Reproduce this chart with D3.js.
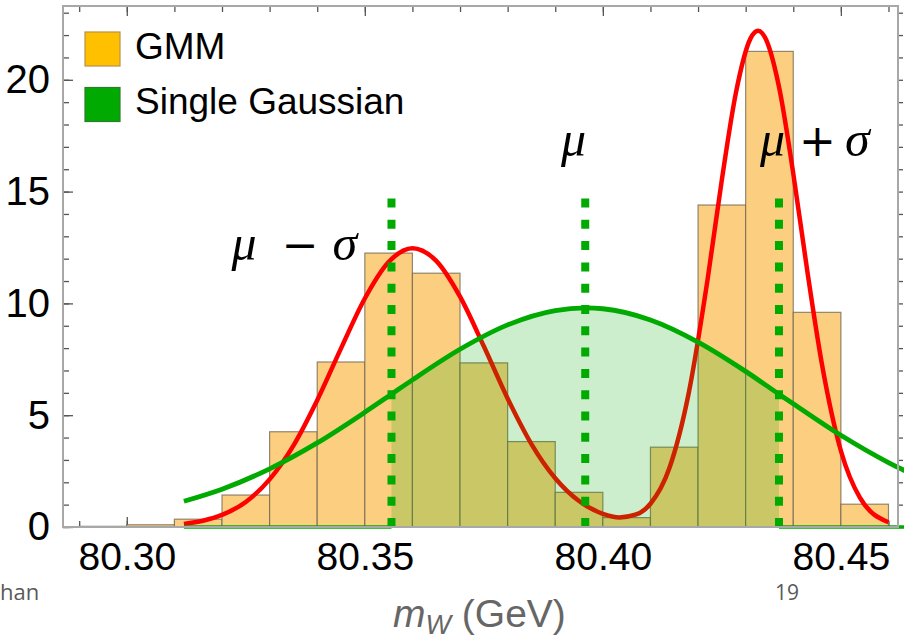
<!DOCTYPE html>
<html>
<head>
<meta charset="utf-8">
<script src="https://cdnjs.cloudflare.com/ajax/libs/d3/7.8.5/d3.min.js"></script>
<style>
  body { margin: 0; background: #fff; }
  svg { display: block; }
</style>
</head>
<body>
<div id="chart"></div>
<script>
// histogram (normalised), bin edges in GeV
const binEdges = [80.29, 80.30, 80.31, 80.32, 80.33, 80.34, 80.35, 80.36, 80.37, 80.38,
                  80.39, 80.40, 80.41, 80.42, 80.43, 80.44, 80.45, 80.46];
const binHeights = [0.03, 0.1, 0.35, 1.43, 4.26, 7.38, 12.25, 11.35, 7.34, 3.82,
                    1.55, 0.42, 3.57, 14.4, 21.27, 9.6, 1.02];

// GMM curve (red)
const gmmX = [80.312, 80.316, 80.320, 80.325, 80.330, 80.335, 80.340, 80.345, 80.350, 80.355,
              80.360, 80.365, 80.370, 80.375, 80.380, 80.385, 80.390, 80.395, 80.400, 80.4035,
              80.407, 80.410, 80.414, 80.418, 80.422, 80.425, 80.428, 80.431, 80.4326, 80.434,
              80.437, 80.440, 80.443, 80.446, 80.450, 80.454, 80.460];
const gmmY = [0.14, 0.28, 0.54, 1.12, 2.13, 3.64, 5.67, 7.99, 10.22, 11.85,
              12.47, 11.90, 10.30, 8.08, 5.75, 3.71, 2.18, 1.16, 0.59, 0.43,
              0.56, 1.04, 2.65, 5.95, 11.07, 15.53, 19.47, 21.84, 22.19, 21.92,
              19.69, 15.81, 11.37, 7.31, 3.41, 1.31, 0.21];

// single gaussian curve (green)
const gaussX = [80.312, 80.320, 80.330, 80.340, 80.350, 80.3556, 80.360, 80.370, 80.380, 80.390,
                80.3963, 80.400, 80.410, 80.420, 80.430, 80.437, 80.440, 80.450, 80.460, 80.466];
const gaussY = [1.15, 1.69, 2.60, 3.76, 5.13, 5.94, 6.58, 7.95, 9.04, 9.68,
                9.80, 9.76, 9.26, 8.27, 6.96, 5.94, 5.51, 4.10, 2.88, 2.26];

// mu - sigma, mu, mu + sigma
const markerX = [80.3556, 80.3963, 80.4370];
const markerTop = 15;

const xTicks = [80.30, 80.35, 80.40, 80.45];
const yTicks = [0, 5, 10, 15, 20];
const legendNames = ["GMM", "Single Gaussian"];

const W = 904, H = 638;
const svg = d3.select("#chart").append("svg")
  .attr("width", W).attr("height", H)
  .style("font-family", "'Liberation Sans', Arial, sans-serif");

const x = d3.scaleLinear().domain([80.2866, 80.4620]).range([63, 898]);
const y = d3.scaleLinear().domain([0, 23.3]).range([527, 6]);

const orange = "#fccf80", red = "#ff0000", green = "#00aa00";

// frame + ticks
const minorX = x.ticks(20), minorY = y.ticks(25);
function tickAxis(axis, tx, ty) {
  const g = svg.append("g").attr("transform", `translate(${tx},${ty})`).call(axis);
  g.select(".domain").remove();
  g.selectAll("line").attr("stroke", "#555").attr("stroke-width", 1.3);
  return g;
}
tickAxis(d3.axisBottom(x).tickValues(minorX).tickSize(6).tickFormat(""), 0, 6);
tickAxis(d3.axisBottom(x).tickValues(xTicks).tickSize(10).tickFormat(""), 0, 6);
tickAxis(d3.axisTop(x).tickValues(minorX).tickSize(6).tickFormat(""), 0, 527);
tickAxis(d3.axisTop(x).tickValues(xTicks).tickSize(10).tickFormat(""), 0, 527);
tickAxis(d3.axisRight(y).tickValues(minorY).tickSize(6).tickFormat(""), 63, 0);
tickAxis(d3.axisRight(y).tickValues(yTicks).tickSize(10).tickFormat(""), 63, 0);
tickAxis(d3.axisRight(y).tickValues(minorY).tickSize(6).tickFormat(""), 897, 0);

// histogram bars
const bins = binHeights.map((h, i) => ({ x0: binEdges[i], x1: binEdges[i + 1], h: h }));
svg.append("g").selectAll("rect").data(bins).enter().append("rect")
  .attr("x", d => x(d.x0))
  .attr("y", d => y(d.h))
  .attr("width", d => x(d.x1) - x(d.x0))
  .attr("height", d => y(0) - y(d.h))
  .attr("fill", orange)
  .attr("stroke", "#6e6450")
  .attr("stroke-opacity", 0.75)
  .attr("stroke-width", 1.2);

// GMM curve
const gmm = gmmX.map((v, i) => [v, gmmY[i]]);
const line = d3.line().x(d => x(d[0])).y(d => y(d[1])).curve(d3.curveMonotoneX);
svg.append("path").datum(gmm)
  .attr("d", line)
  .attr("fill", "none")
  .attr("stroke", red)
  .attr("stroke-width", 4.5);

// single gaussian: fill between mu-sigma and mu+sigma
const gauss = gaussX.map((v, i) => [v, gaussY[i]]);
const inner = gauss.filter(d => d[0] >= markerX[0] - 1e-9 && d[0] <= markerX[2] + 1e-9);
const area = d3.area().x(d => x(d[0])).y0(y(0)).y1(d => y(d[1])).curve(d3.curveMonotoneX);
svg.append("path").datum(inner)
  .attr("d", area)
  .attr("fill", green)
  .attr("fill-opacity", 0.2);

svg.append("path").datum(gauss)
  .attr("d", line)
  .attr("fill", "none")
  .attr("stroke", green)
  .attr("stroke-width", 4.8);

// green baseline outside the filled band
const baseSegs = [[gaussX[0], markerX[0]], [markerX[2], gaussX[gaussX.length - 1]]];
svg.append("g").selectAll("line").data(baseSegs).enter().append("line")
  .attr("x1", d => x(d[0])).attr("x2", d => x(d[1]))
  .attr("y1", y(0)).attr("y2", y(0))
  .attr("stroke", green).attr("stroke-width", 3.5);

// dotted markers
svg.append("g").selectAll("line").data(markerX).enter().append("line")
  .attr("x1", d => x(d)).attr("x2", d => x(d))
  .attr("y1", y(0)).attr("y2", y(markerTop))
  .attr("stroke", green)
  .attr("stroke-width", 8)
  .attr("stroke-dasharray", "9,12.3");

// frame lines
svg.append("path")
  .attr("d", `M${x.range()[0]},${y(0)}V${y.range()[1]}H${x.range()[1]}V${y(0)}Z`)
  .attr("fill", "none").attr("stroke", "#a8a8a8").attr("stroke-width", 2);

// tick labels
const xl = svg.append("g").attr("transform", `translate(0,${y(0)})`)
  .call(d3.axisBottom(x).tickValues(xTicks).tickSize(0).tickPadding(15).tickFormat(d3.format(".2f")));
xl.select(".domain").remove();
xl.selectAll("text").attr("font-size", 39).attr("font-family", "'Liberation Sans', Arial, sans-serif").attr("fill", "#000");

const yl = svg.append("g").attr("transform", `translate(${x.range()[0]},0)`)
  .call(d3.axisLeft(y).tickValues(yTicks).tickSize(0).tickPadding(13));
yl.select(".domain").remove();
yl.selectAll("text").attr("font-size", 40).attr("font-family", "'Liberation Sans', Arial, sans-serif").attr("fill", "#000");

// annotations: [glyph, italic, dx]
const serif = "'Liberation Serif', 'Times New Roman', serif";
function mathLabel(parts, px, py) {
  const t = svg.append("text").attr("x", px).attr("y", py)
    .attr("font-family", serif).attr("font-size", 50).attr("fill", "#000");
  parts.forEach(p => {
    const s = t.append("tspan").attr("dx", p[2] || 0).text(p[0]);
    if (p[1]) s.attr("font-style", "italic");
    else s.attr("font-family", "'DejaVu Sans', sans-serif").attr("font-size", 44);
  });
}
mathLabel([["μ", true], ["−", false, 25], ["σ", true, 14]], x(80.3220), y(11.95));
mathLabel([["μ", true]], x(80.3912), y(16.6));
mathLabel([["μ", true], ["+", false, 14], ["σ", true, 9]], x(80.4330), y(16.6));

// legend
const legColors = [["#ffc000", "#b8914a"], [green, "#2c7a2c"]];
const leg = svg.append("g").selectAll("g").data(legendNames).enter().append("g")
  .attr("transform", (d, i) => `translate(85,${32 + i * 55.5})`);
leg.append("rect").attr("width", 35).attr("height", 34)
  .attr("fill", (d, i) => legColors[i][0])
  .attr("stroke", (d, i) => legColors[i][1]).attr("stroke-width", 1.2);
leg.append("text").attr("x", 50).attr("y", 26.5)
  .attr("font-size", 37).attr("fill", "#000").text(d => d);

// axis title
const title = svg.append("text").attr("x", 393).attr("y", 626.5)
  .attr("font-size", 39).attr("fill", "#666");
title.append("tspan").attr("font-style", "italic").text("m");
title.append("tspan").attr("font-style", "italic").attr("font-size", 27).attr("dy", 7).text("W");
title.append("tspan").attr("dy", -7).text(" (GeV)");

// slide footer bits
svg.append("text").attr("x", 0).attr("y", 600)
  .attr("font-family", "'Open Sans', sans-serif").attr("font-size", 22).attr("fill", "#595959").text("han");
svg.append("text").attr("x", 775).attr("y", 600)
  .attr("font-family", "'Open Sans', sans-serif").attr("font-size", 21).attr("fill", "#595959").text("19");
</script>
</body>
</html>
